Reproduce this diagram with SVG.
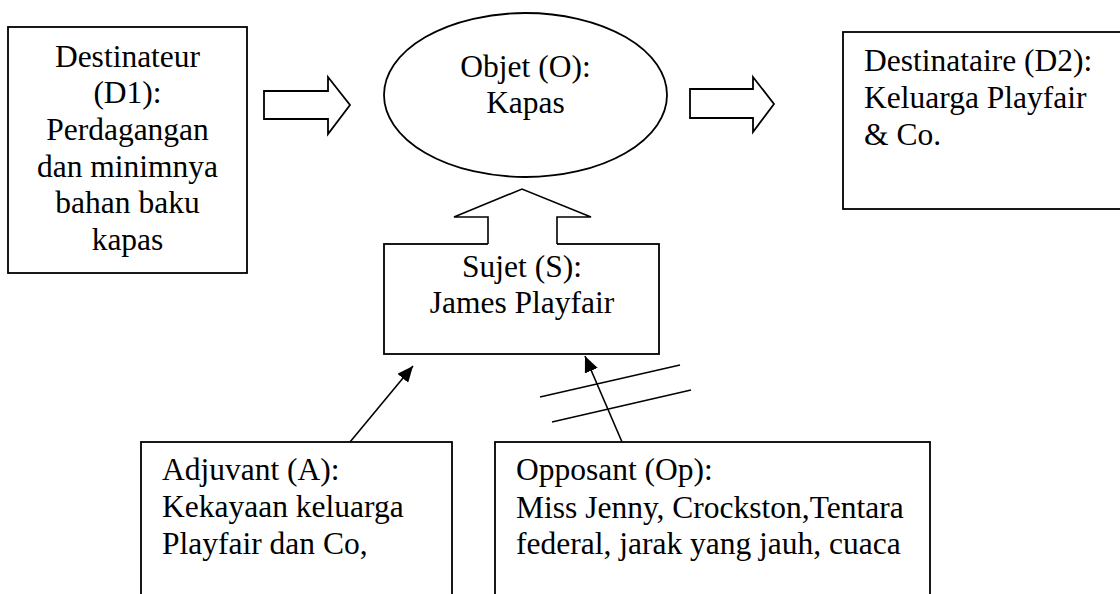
<svg xmlns="http://www.w3.org/2000/svg" width="1120" height="594" viewBox="0 0 1120 594">
<defs>
<style>
.box{fill:#fff;stroke:#000;stroke-width:1.8}
.t{font-family:'Liberation Serif','Times New Roman',serif;font-size:31.5px;fill:#000}
.c{text-anchor:middle}
.ln{stroke:#000;stroke-width:1.6;fill:none}
.blk{fill:#fff;stroke:#000;stroke-width:1.8;stroke-linejoin:miter}
</style>
<marker id="ah" markerUnits="userSpaceOnUse" markerWidth="16" markerHeight="14" viewBox="0 0 16 14" refX="16" refY="7" orient="auto">
<path d="M0,0 L16,7 L0,14 z" fill="#000"/>
</marker>
</defs>
<rect width="1120" height="594" fill="#fff"/>

<g id="destinateur">
<rect class="box" x="8" y="27" width="239" height="246"/>
<text class="t c" x="127.5" y="67">Destinateur</text>
<text class="t c" x="127.5" y="103">(D1):</text>
<text class="t c" x="127.5" y="140">Perdagangan</text>
<text class="t c" x="127.5" y="177">dan minimnya</text>
<text class="t c" x="127.5" y="213">bahan baku</text>
<text class="t c" x="127.5" y="250">kapas</text>
</g>

<g id="objet">
<ellipse class="box" cx="525.5" cy="95" rx="141.5" ry="82"/>
<text class="t c" x="525.5" y="77">Objet (O):</text>
<text class="t c" x="525.5" y="113">Kapas</text>
</g>

<g id="destinataire">
<rect class="box" x="843" y="32" width="290" height="177"/>
<text class="t" x="864" y="71">Destinataire (D2):</text>
<text class="t" x="864" y="108">Keluarga Playfair</text>
<text class="t" x="864" y="145">&amp; Co.</text>
</g>

<g id="sujet">
<rect class="box" x="384" y="244" width="275" height="110"/>
<text class="t c" x="522" y="277">Sujet (S):</text>
<text class="t c" x="522" y="313">James Playfair</text>
</g>

<g id="adjuvant">
<rect class="box" x="141" y="442" width="311" height="170"/>
<text class="t" x="162" y="480">Adjuvant (A):</text>
<text class="t" x="162" y="517">Kekayaan keluarga</text>
<text class="t" x="162" y="554">Playfair dan Co,</text>
</g>

<g id="opposant">
<rect class="box" x="495" y="442" width="435" height="170"/>
<text class="t" x="516" y="480">Opposant (Op):</text>
<text class="t" x="516" y="518">Miss Jenny, Crockston,Tentara</text>
<text class="t" x="516" y="554">federal, jarak yang jauh, cuaca</text>
</g>

<g id="connectors">
<polygon class="blk" points="264,91 328,91 328,77 350,105 328,134 328,119 264,119"/>
<polygon class="blk" points="690,89 753,89 753,77 774,104 753,132 753,118 690,118"/>
<polygon fill="#fff" stroke="none" points="488,245.5 488,217 454,217 522,189 591,217 557,217 557,245.5"/>
<polyline class="ln" stroke-width="1.8" points="488,244 488,217 454,217 522,189 591,217 557,217 557,244"/>
<line class="ln" x1="350" y1="442" x2="413" y2="366" marker-end="url(#ah)"/>
<line class="ln" x1="622" y1="442" x2="585" y2="356" marker-end="url(#ah)"/>
<line class="ln" x1="540" y1="397" x2="680" y2="365"/>
<line class="ln" x1="552" y1="422" x2="691" y2="390"/>
</g>
</svg>
